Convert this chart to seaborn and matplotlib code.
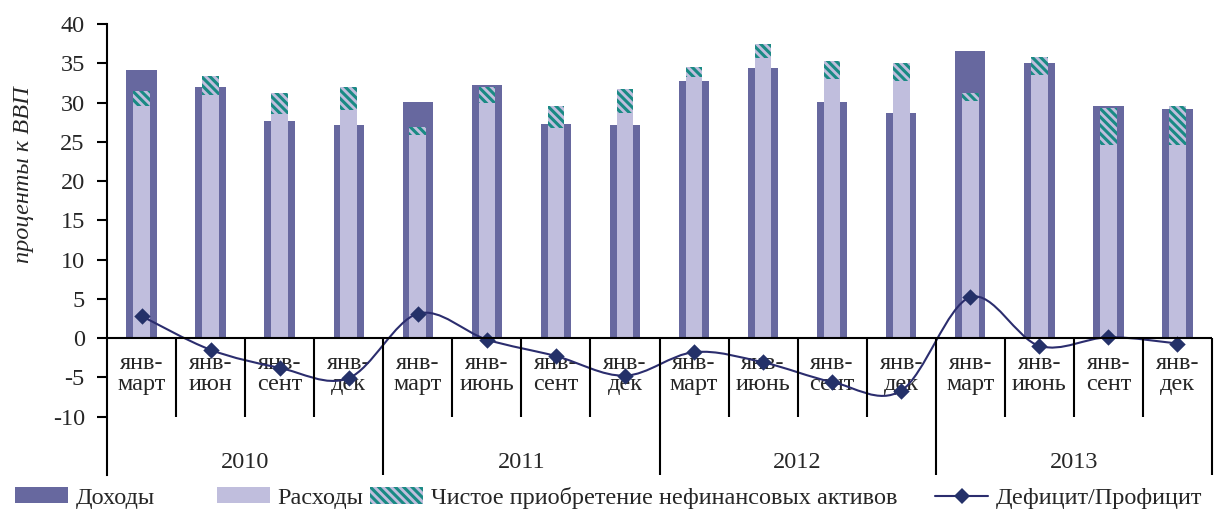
import numpy as np
import pandas as pd
import seaborn as sns
import matplotlib.pyplot as plt
from matplotlib.path import Path
from matplotlib.patches import PathPatch, Patch
from matplotlib.lines import Line2D

# Data (percent of GDP)
years = ["2010", "2011", "2012", "2013"]
periods = ["янв-\nмарт", "янв-\nиюн", "янв-\nсент", "янв-\nдек",
           "янв-\nмарт", "янв-\nиюнь", "янв-\nсент", "янв-\nдек",
           "янв-\nмарт", "янв-\nиюнь", "янв-\nсент", "янв-\nдек",
           "янв-\nмарт", "янв-\nиюнь", "янв-\nсент", "янв-\nдек"]
dohody = [34.1, 32.0, 27.6, 27.1, 30.1, 32.2, 27.3, 27.1,
          32.8, 34.4, 30.1, 28.7, 36.6, 35.0, 29.5, 29.2]
rashody = [29.5, 31.0, 28.5, 29.0, 25.8, 30.0, 26.8, 28.7,
           33.3, 35.7, 33.0, 32.8, 30.2, 33.5, 24.6, 24.6]
nefin = [2.0, 2.4, 2.7, 3.0, 1.1, 2.0, 2.8, 3.0,
         1.2, 1.8, 2.3, 2.2, 1.0, 2.3, 4.7, 5.0]
deficit = [2.8, -1.5, -3.8, -5.1, 3.1, -0.2, -2.3, -4.8,
           -1.8, -3.1, -5.6, -6.7, 5.2, -1.0, 0.1, -0.7]

ids = [f"{y}-{q}" for y in years for q in range(1, 5)]
df = pd.DataFrame({"id": ids, "dohody": dohody, "rashody": rashody,
                   "total": np.array(rashody) + np.array(nefin),
                   "deficit": deficit})

dark = "#67689F"
light = "#C0BEDD"
teal = "#1A8A84"
navy = "#2B2D6E"
fs = 17.5

sns.set_style("white")
plt.rcParams["font.family"] = ["Liberation Serif", "DejaVu Serif"]
plt.rcParams["axes.unicode_minus"] = False
plt.rcParams["hatch.linewidth"] = 2.2

fig = plt.figure(figsize=(12.16, 5.15), dpi=100)
ax = fig.add_axes([107 / 1216, 1 - 475 / 515, 1105 / 1216, 451 / 515])

# Bars
sns.barplot(data=df, x="id", y="dohody", order=ids, color=dark, saturation=1,
            width=0.44, linewidth=0, ax=ax, zorder=2)
sns.barplot(data=df, x="id", y="total", order=ids, color=light, saturation=1,
            width=0.24, linewidth=0, edgecolor=teal, hatch="\\\\\\\\", ax=ax, zorder=3)
sns.barplot(data=df, x="id", y="rashody", order=ids, color=light, saturation=1,
            width=0.24, linewidth=0, ax=ax, zorder=4)

# Smoothed deficit line (Bezier through the points, Excel-style)
xs = np.arange(len(deficit), dtype=float)
ys = np.array(deficit, dtype=float)
verts = [(xs[0], ys[0])]
codes = [Path.MOVETO]
n = len(xs)
for i in range(n - 1):
    p0 = np.array([xs[max(i - 1, 0)], ys[max(i - 1, 0)]])
    p1 = np.array([xs[i], ys[i]])
    p2 = np.array([xs[i + 1], ys[i + 1]])
    p3 = np.array([xs[min(i + 2, n - 1)], ys[min(i + 2, n - 1)]])
    c1 = p1 + (p2 - p0) / 6
    c2 = p2 - (p3 - p1) / 6
    verts += [tuple(c1), tuple(c2), tuple(p2)]
    codes += [Path.CURVE4] * 3
ax.add_patch(PathPatch(Path(verts, codes), facecolor="none", edgecolor=navy,
                       lw=1.5, zorder=5))
sns.scatterplot(data=df, x="id", y="deficit", marker="D", s=70, color="#243169",
                linewidth=0, ax=ax, zorder=6)

# Axes styling
ax.set_xlim(-0.5, 15.5)
ax.set_ylim(-17.45, 40)
ax.set_yticks(range(-10, 41, 5))
ax.set_xticks([])
ax.set_xlabel("")
ax.set_ylabel("проценты к ВВП", fontsize=fs, fontstyle="italic")
ax.yaxis.set_label_coords(-0.066, 0.665)
ax.tick_params(axis="y", left=True, direction="out", length=7, width=1.5,
               labelsize=fs, pad=9, color="black")
for s in ["top", "right", "bottom"]:
    ax.spines[s].set_visible(False)
ax.spines["left"].set_color("black")
ax.spines["left"].set_linewidth(1.5)

# Category table below zero line
ax.axhline(0, color="black", lw=1.5, zorder=7)
for b in range(1, 16):
    if b % 4 == 0:
        ax.vlines(b - 0.5, -17.45, 0, color="black", lw=1.5, zorder=7)
    else:
        ax.vlines(b - 0.5, -10.1, 0, color="black", lw=1.5, zorder=7)
ax.vlines(15.5, -17.45, 0, color="black", lw=1.5, zorder=7, clip_on=False)

for i, lab in enumerate(periods):
    ax.text(i, -4.6, lab, ha="center", va="center", fontsize=fs,
            linespacing=1.0, zorder=4)
for j, yr in enumerate(years):
    ax.text(4 * j + 1.5, -15.8, yr, ha="center", va="center", fontsize=fs)

# Legend, one entry per box so the spacing follows the original
handles = [Patch(facecolor=dark, edgecolor="none"),
           Patch(facecolor=light, edgecolor="none"),
           Patch(facecolor=light, edgecolor=teal, hatch="\\\\\\\\", linewidth=0),
           Line2D([0], [0], color=navy, lw=1.5, marker="D", markersize=8,
                  markerfacecolor="#243169", markeredgewidth=0)]
labels = ["Доходы", "Расходы", "Чистое приобретение нефинансовых активов",
          "Дефицит/Профицит"]
lefts = [15, 217, 370, 935]
for h, l, x0 in zip(handles, labels, lefts):
    fig.legend([h], [l], loc="center left", bbox_to_anchor=(x0 / 1216, 0.033),
               frameon=False, fontsize=fs, handlelength=2.2, handleheight=0.65,
               handletextpad=0.3, borderpad=0, borderaxespad=0)

fig.savefig("out.png", dpi=100)
